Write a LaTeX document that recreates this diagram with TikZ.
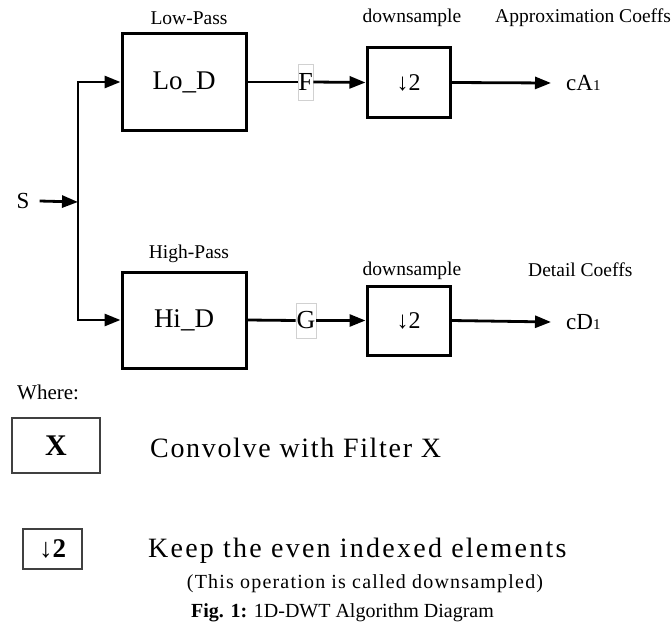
\documentclass[tikz,border=0pt]{standalone}
\usepackage{fontspec}
\setmainfont{Liberation Serif}
\usetikzlibrary{arrows.meta}
\begin{document}
\begin{tikzpicture}[x=1pt,y=-1pt,
  blk/.style={draw, line width=3pt, inner sep=0pt},
  lbl/.style={inner sep=0pt, font=\fontsize{19.5}{20}\selectfont},
  big/.style={inner sep=0pt, font=\fontsize{27}{28}\selectfont},
  wire/.style={line width=2.8pt},
  arr/.style={wire, -{Triangle[length=16pt,width=12pt]}},
  tagbox/.style={draw=black!18, line width=0.6pt, inner sep=0pt, font=\fontsize{26}{28}\selectfont},
  leg/.style={draw=black!75, line width=1.8pt, inner sep=0pt},
  desc/.style={inner sep=0pt, anchor=west, font=\fontsize{28}{30}\selectfont}
]
\useasboundingbox (0,0) rectangle (672,626);

% filter boxes
\node[blk, minimum width=124pt, minimum height=96pt, big] (lo) at (184,82) {Lo\_D};
\node[blk, minimum width=124pt, minimum height=96pt, big] (hi) at (184,320) {Hi\_D};
\node[lbl] (lolab) at (189,18) {Low-Pass};
\node[lbl] (hilab) at (189,254) {High-Pass};

% downsample boxes
\node[blk, minimum width=83pt, minimum height=69pt, font=\fontsize{24}{26}\selectfont] (ds1) at (408.5,82.5) {↓2};
\node[blk, minimum width=83pt, minimum height=69pt, font=\fontsize{24}{26}\selectfont] (ds2) at (408.5,320.5) {↓2};
\node[lbl] (ds1lab) at (412,18) {downsample};
\node[lbl] (ds2lab) at (412,271) {downsample};

% F and G
\node[tagbox, minimum width=15pt, minimum height=36pt] (F) at (305.5,82) {F};
\node[tagbox, minimum width=20pt, minimum height=35pt] (G) at (306,320.5) {G};

% outputs
\node[inner sep=0pt, anchor=west] (ca) at (566,83) {\fontsize{23}{24}\selectfont cA\fontsize{15}{16}\selectfont 1};
\node[inner sep=0pt, anchor=west] (cd) at (566,322) {\fontsize{23}{24}\selectfont cD\fontsize{15}{16}\selectfont 1};
\node[lbl, anchor=west] (calab) at (495,18) {Approximation Coeffs};
\node[lbl, anchor=west] (cdlab) at (528,270) {Detail Coeffs};

% input
\node[inner sep=0pt, font=\fontsize{23}{24}\selectfont] (s) at (23,201) {S};
\coordinate (b) at (78,202);

\draw[arr] ([xshift=10pt]s.east) -- (b);
\draw[arr] (b) |- (lo.west);
\draw[arr] (b) |- (hi.west);
\draw[wire] (lo.east) -- (F.west);
\draw[arr] (F.east) -- (ds1.west);
\draw[arr] (ds1.east) -- ([xshift=-15pt]ca.west);
\draw[wire] (hi.east) -- (G.west);
\draw[arr] (G.east) -- (ds2.west);
\draw[arr] (ds2.east) -- ([xshift=-15pt]cd.west);

% legend
\node[inner sep=0pt, anchor=west, font=\fontsize{21}{22}\selectfont] (where) at (17,392) {Where:};
\node[leg, minimum width=88pt, minimum height=55pt, font=\fontsize{30}{32}\selectfont\bfseries] (lx) at (56,445.5) {X};
\node[desc, font=\fontsize{28}{30}\selectfont\addfontfeature{LetterSpace=6}] (cx) at (150,448) {Convolve with Filter X};
\node[leg, minimum width=59pt, minimum height=40pt, font=\fontsize{27}{28}\selectfont\bfseries] (ld) at (52.5,549) {↓2};
\node[desc, font=\fontsize{28}{30}\selectfont\addfontfeature{LetterSpace=8}] (keep) at (148,551) {Keep the even indexed elements};
\node[inner sep=0pt, font=\fontsize{20}{22}\selectfont\addfontfeature{LetterSpace=6}] (note) at (365,584) {(This operation is called downsampled)};
\node[inner sep=0pt, font=\fontsize{20}{22}\selectfont] (cap) at (342.5,613) {\textbf{Fig. 1:} 1D-DWT Algorithm Diagram};
\end{tikzpicture}
\end{document}
